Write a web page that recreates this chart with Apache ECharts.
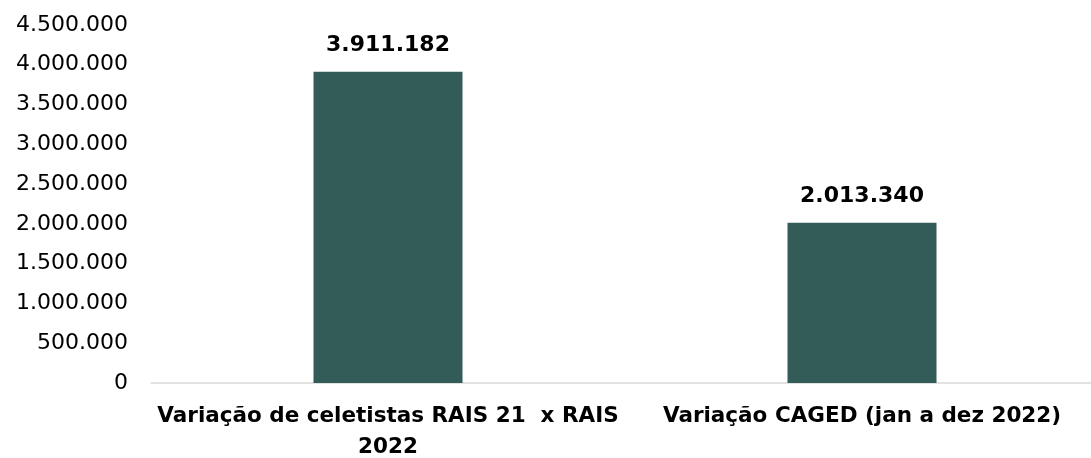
<!DOCTYPE html>
<html>
<head>
<meta charset="utf-8">
<script src="https://cdn.jsdelivr.net/npm/echarts@6/dist/echarts.min.js"></script>
<style>
  html, body { margin: 0; padding: 0; background: #fff; overflow: hidden; }
  /* the plot runs slightly past the right edge in the original, so the canvas is a bit wider than the window */
  #chart { width: 1099px; height: 458px; }
</style>
</head>
<body>
<div id="chart"></div>
<script>
const categories = ['Variação de celetistas RAIS 21  x RAIS\n2022', 'Variação CAGED (jan a dez 2022)'];
const values = [3911182, 2013340];
const yTicks = [0, 500000, 1000000, 1500000, 2000000, 2500000, 3000000, 3500000, 4000000, 4500000];

// 1234567 -> 1.234.567
const fmt = (v) => String(Math.round(v)).replace(/\B(?=(\d{3})+(?!\d))/g, '.');

const chart = echarts.init(document.getElementById('chart'));

chart.setOption({
  animation: false,
  textStyle: { fontFamily: '"DejaVu Sans", sans-serif' },
  grid: { left: 151, right: 0, top: 25, bottom: 75, outerBoundsMode: 'none' },
  xAxis: {
    type: 'category',
    data: categories,
    axisLine: { lineStyle: { color: '#d9d9d9', width: 1.5 } },
    axisTick: { show: false },
    axisLabel: {
      color: '#000',
      fontWeight: 'bold',
      fontSize: 21.5,
      lineHeight: 31,
      margin: 18,
      interval: 0
    }
  },
  yAxis: {
    type: 'value',
    min: yTicks[0],
    max: yTicks[yTicks.length - 1],
    interval: 500000,
    splitLine: { show: false },
    axisLine: { show: false },
    axisTick: { show: false },
    axisLabel: {
      color: '#000',
      fontSize: 22,
      margin: 23,
      formatter: fmt
    }
  },
  series: [{
    type: 'bar',
    data: values,
    barWidth: 149,
    itemStyle: { color: '#335b58' },
    label: {
      show: true,
      position: 'top',
      distance: 16,
      color: '#000',
      fontWeight: 'bold',
      fontSize: 22,
      formatter: (p) => fmt(p.value)
    }
  }]
});
</script>
</body>
</html>
